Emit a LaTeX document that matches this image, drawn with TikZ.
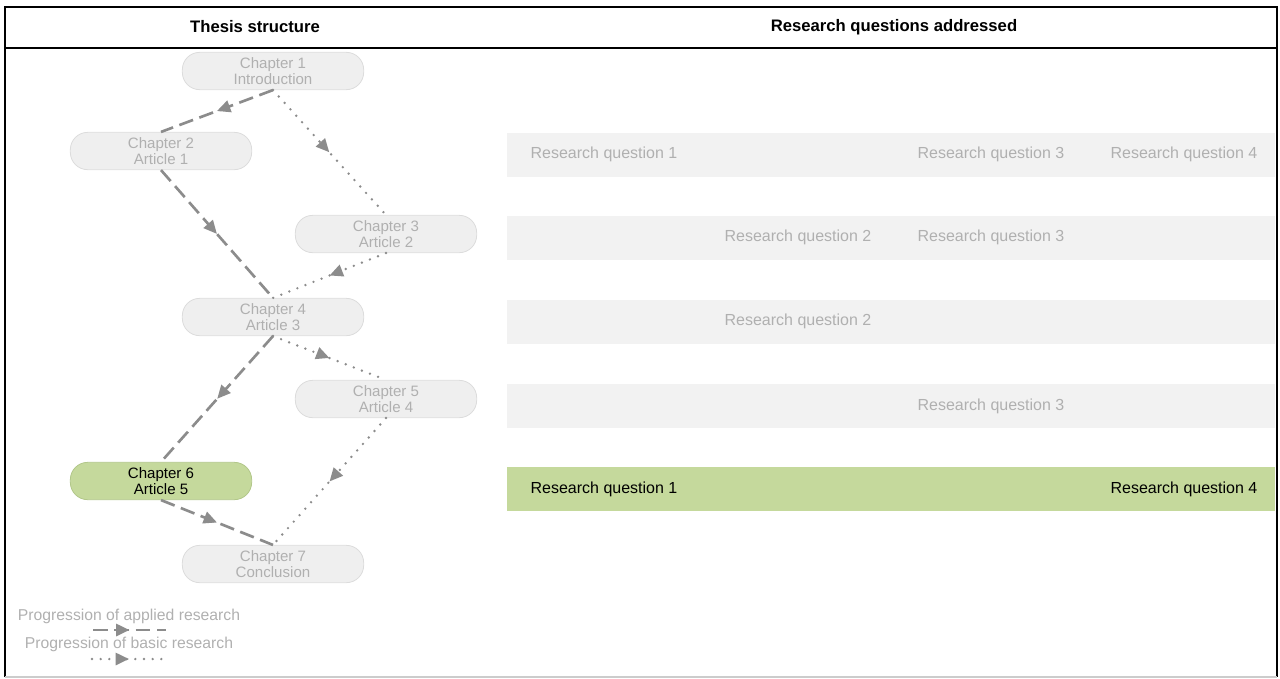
\documentclass[tikz,border=0pt]{standalone}
\usepackage{fontspec}
\setmainfont{Liberation Sans}
\usetikzlibrary{arrows.meta,decorations.markings}
\definecolor{nodefill}{HTML}{EFEFEF}
\definecolor{nodeline}{HTML}{DCDCDC}
\definecolor{nodetext}{HTML}{B0B0B0}
\definecolor{barfill}{HTML}{F2F2F2}
\definecolor{arrowgray}{HTML}{8C8C8C}
\definecolor{greenfill}{HTML}{C5D99C}
\definecolor{greenline}{HTML}{B2C78A}
\begin{document}
\begin{tikzpicture}[x=0.75pt,y=-0.75pt,
  chapter/.style={draw=nodeline,fill=nodefill,text=nodetext,line width=0.6pt,
    rounded corners=13pt,minimum width=136pt,minimum height=28pt,inner sep=1pt,
    align=center,font=\fontsize{11.3}{12.5}\selectfont},
  current/.style={chapter,draw=greenline,fill=greenfill,text=black},
  bar/.style={fill=barfill,minimum width=576pt,minimum height=33pt,inner sep=0pt},
  greenbar/.style={bar,fill=greenfill},
  question/.style={text=nodetext,font=\fontsize{12}{14}\selectfont},
  answered/.style={question,text=black},
  heading/.style={font=\bfseries\fontsize{12.5}{14}\selectfont},
  legend/.style={text=nodetext,font=\fontsize{11.8}{14}\selectfont},
  midarrow/.style={postaction={decorate},decoration={markings,
    mark=at position #1 with {\arrow{Triangle[length=10pt,width=9pt]}}}},
  midarrow/.default=0.5,
  applied/.style={draw=arrowgray,line width=2pt,dash pattern=on 11pt off 5pt,midarrow=#1},
  applied/.default=0.5,
  basic/.style={draw=arrowgray,line width=2pt,line cap=round,dash pattern=on 0pt off 6.5pt,midarrow=#1},
  basic/.default=0.5]
  \useasboundingbox (0,0) rectangle (1280,678);

  % frame and header
  \draw[line width=1.9pt] (5,677) -- (5,7) -- (1277,7) -- (1277,677);
  \draw[line width=1pt,black!20] (5,677) -- (1277,677);
  \draw[line width=1.9pt] (5,48) -- (1277,48);
  \node[heading] (h1) at (255,27) {Thesis structure};
  \node[heading] (h2) at (894,27) {Research questions addressed};

  % research question rows
  \node[bar] (row1) at (891,154.5) {};
  \node[bar] (row2) at (891,237.5) {};
  \node[bar] (row3) at (891,321.5) {};
  \node[bar] (row4) at (891,406) {};
  \node[greenbar] (row5) at (891,489) {};
  \node[question] (q11) at (604,154.5) {Research question 1};
  \node[question] (q13) at (991,154.5) {Research question 3};
  \node[question] (q14) at (1184,154.5) {Research question 4};
  \node[question] (q22) at (798,237.5) {Research question 2};
  \node[question] (q23) at (991,237.5) {Research question 3};
  \node[question] (q32) at (798,321.5) {Research question 2};
  \node[question] (q43) at (991,406) {Research question 3};
  \node[answered] (q51) at (604,489) {Research question 1};
  \node[answered] (q54) at (1184,489) {Research question 4};

  % chapters
  \node[chapter] (ch1) at (273,71) {Chapter 1\\Introduction};
  \node[chapter] (ch2) at (161,151) {Chapter 2\\Article 1};
  \node[chapter] (ch3) at (386,234) {Chapter 3\\Article 2};
  \node[chapter] (ch4) at (273,317) {Chapter 4\\Article 3};
  \node[chapter] (ch5) at (386,399) {Chapter 5\\Article 4};
  \node[current] (ch6) at (161,481) {Chapter 6\\Article 5};
  \node[chapter] (ch7) at (273,564) {Chapter 7\\Conclusion};

  \draw[applied] (ch1.south) -- (ch2.north);
  \draw[basic] (ch1.south) -- (ch3.north);
  \draw[applied] (ch2.south) -- (ch4.north);
  \draw[basic] (ch3.south) -- (ch4.north);
  \draw[basic] (ch4.south) -- (ch5.north);
  \draw[applied] (ch4.south) -- (ch6.north);
  \draw[basic] (ch5.south) -- (ch7.north);
  \draw[applied] (ch6.south) -- (ch7.north);

  % legend
  \node[legend] (l1) at (129,616) {Progression of applied research};
  \node[legend] (l2) at (129,644) {Progression of basic research};
  \coordinate (a1) at (93,630);
  \coordinate (a2) at (166,630);
  \coordinate (b1) at (92,659);
  \coordinate (b2) at (166,659);
  \draw[applied=0.5] (a1) -- (a2);
  \draw[basic=0.5] (b1) -- (b2);
\end{tikzpicture}
\end{document}
